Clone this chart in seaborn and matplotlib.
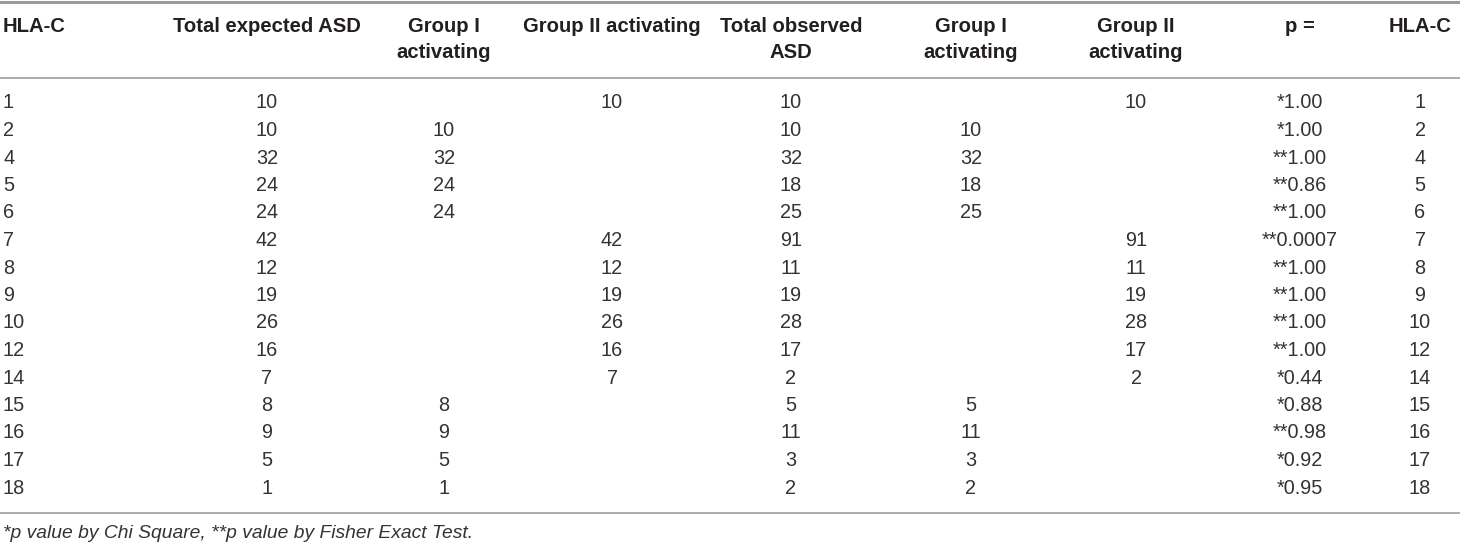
import pandas as pd
import seaborn as sns
import matplotlib.pyplot as plt

# table values
hla = [1, 2, 4, 5, 6, 7, 8, 9, 10, 12, 14, 15, 16, 17, 18]
exp_total = [10, 10, 32, 24, 24, 42, 12, 19, 26, 16, 7, 8, 9, 5, 1]
exp_g1 = [None, 10, 32, 24, 24, None, None, None, None, None, None, 8, 9, 5, 1]
exp_g2 = [10, None, None, None, None, 42, 12, 19, 26, 16, 7, None, None, None, None]
obs_total = [10, 10, 32, 18, 25, 91, 11, 19, 28, 17, 2, 5, 11, 3, 2]
obs_g1 = [None, 10, 32, 18, 25, None, None, None, None, None, None, 5, 11, 3, 2]
obs_g2 = [10, None, None, None, None, 91, 11, 19, 28, 17, 2, None, None, None, None]
p_vals = ["*1.00", "*1.00", "**1.00", "**0.86", "**1.00", "**0.0007", "**1.00", "**1.00",
          "**1.00", "**1.00", "*0.44", "*0.88", "**0.98", "*0.92", "*0.95"]

headers = [["HLA-C"], ["Total expected ASD"], ["Group I", "activating"],
           ["Group II activating"], ["Total observed", "ASD"], ["Group I", "activating"],
           ["Group II", "activating"], ["p ="], ["HLA-C"]]
footnote = "*p value by Chi Square, **p value by Fisher Exact Test."

df = pd.DataFrame({"hla": hla, "exp_total": exp_total, "exp_g1": exp_g1, "exp_g2": exp_g2,
                   "obs_total": obs_total, "obs_g1": obs_g1, "obs_g2": obs_g2,
                   "p": p_vals, "hla2": hla})

sns.set_theme(style="white")
plt.rcParams['font.family'] = ['Liberation Sans', 'DejaVu Sans']

col_x = [3, 267, 444, 612, 791, 971, 1136, 1300, 1420]
txt = "#231f20"
line = "#a6a6a6"

fig = plt.figure(figsize=(14.6, 5.42), dpi=100)
ax = fig.add_axes([0, 0, 1, 1])
ax.set_xlim(0, 1460)
ax.set_ylim(542, 0)
ax.axis("off")

ax.axhline(1.5, color="#9a9a9a", lw=2.2)
ax.axhline(78, color=line, lw=1.3)
ax.axhline(513, color=line, lw=1.3)

for j, (x, h) in enumerate(zip(col_x, headers)):
    ha = "left" if j == 0 else "center"
    for k, s in enumerate(h):
        ax.text(x, 26 + k * 26, s, ha=ha, va="center", fontsize=14.6,
                fontweight="bold", color=txt)

for i, row in df.iterrows():
    y = 103 + i * 27.5
    for j, col in enumerate(df.columns):
        v = row[col]
        if v is None or (isinstance(v, float) and pd.isna(v)):
            continue
        if isinstance(v, float):
            v = int(v)
        ha = "left" if j == 0 else "center"
        ax.text(col_x[j], y, str(v), ha=ha, va="center", fontsize=14.3, color="#333333")

ax.text(3, 533, footnote, ha="left", va="center", fontsize=13.9, style="italic", color="#333333")

fig.savefig("out.png", dpi=100)
